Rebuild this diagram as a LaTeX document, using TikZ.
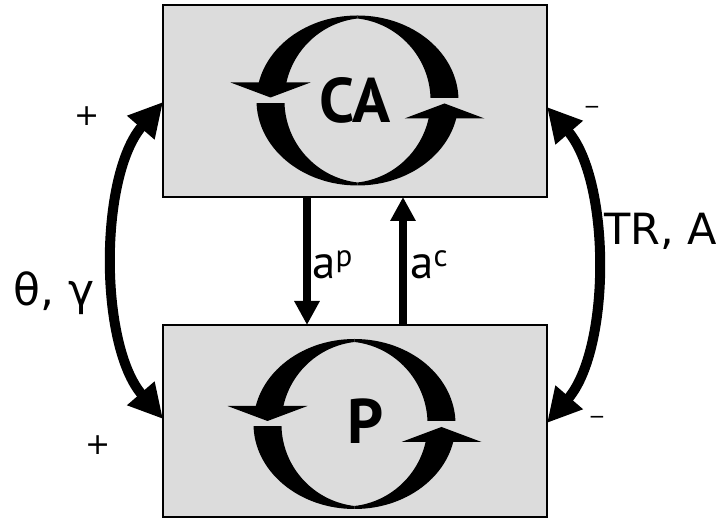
\documentclass[tikz,border=0pt]{standalone}
\usepackage{fontspec}
\setmainfont{DejaVu Sans}
\newfontfamily\ptsans{PT Sans}
\usetikzlibrary{arrows.meta}
\definecolor{boxgray}{RGB}{220,220,220}
\def\myring{(0,0) ellipse[x radius=101,y radius=85]
  (0,82) arc[start angle=96.6,end angle=263.4,radius=82.55]
  arc[start angle=-83.4,end angle=83.4,radius=82.55] -- cycle}
\tikzset{
  cyclearrows/.pic={
    \begin{scope}
      \clip (-130,18) rectangle (0,100);
      \fill[black,even odd rule] \myring;
    \end{scope}
    \begin{scope}
      \clip (-130,-100) rectangle (0,-3);
      \fill[black,even odd rule] \myring;
    \end{scope}
    \begin{scope}
      \clip (0,3) rectangle (130,100);
      \fill[black,even odd rule] \myring;
    \end{scope}
    \begin{scope}
      \clip (0,-100) rectangle (130,-18);
      \fill[black,even odd rule] \myring;
    \end{scope}
    \fill[black] (-127,18) -- (-47,18) -- (-87,3) -- cycle;
    \fill[black] (47,-18) -- (127,-18) -- (87,-3) -- cycle;
  }
}
\begin{document}
\begin{tikzpicture}[x=1pt,y=1pt,
  box/.style={draw=black,line width=1.5pt,fill=boxgray,minimum width=384pt,
    minimum height=192pt,inner sep=0pt,outer sep=0pt},
  bigarrow/.style={line width=10pt,
    {Triangle[length=34pt,width=34pt]}-{Triangle[length=34pt,width=34pt]}},
  vertarrow/.style={line width=8pt,-{Triangle[length=24pt,width=24pt]}},
  bigtxt/.style={inner sep=0pt,font=\ptsans\bfseries\fontsize{63}{63}\selectfont},
  lbl/.style={inner sep=0pt,anchor=base west},
  plussign/.style={inner sep=0pt,font=\fontsize{30}{30}\selectfont},
  minussign/.style={inner sep=0pt,font=\fontsize{20}{20}\selectfont}
]
\useasboundingbox (0,0) rectangle (722,518);
\node[box] (CA) at (355,417) {};
\node[box] (P) at (355,97) {};
\pic at (357.5,417.5) {cyclearrows};
\pic at (354.5,94) {cyclearrows};
\node[bigtxt] (catxt) at (355,417.5) {CA};
\node[bigtxt] (ptxt) at (366,96.5) {P};
\draw[bigarrow] ([yshift=-1pt]CA.west) .. controls +(-64,-74) and +(-64,74) .. ([yshift=2pt]P.west);
\draw[bigarrow] ([yshift=-6pt]CA.east) .. controls +(64,-74) and +(64,74) .. ([yshift=-2pt]P.east);
\draw[vertarrow] ([xshift=-48pt]CA.south) -- ([xshift=-48pt]P.north);
\draw[vertarrow] ([xshift=48pt]P.north) -- ([xshift=48pt]CA.south);
\node[lbl,font=\ptsans\fontsize{47}{47}\selectfont] (aplbl) at (312,239)
  {a\raisebox{12pt}{\fontsize{31}{31}\selectfont p}};
\node[lbl,font=\ptsans\fontsize{47}{47}\selectfont] (aclbl) at (410,239)
  {a\raisebox{12pt}{\fontsize{31}{31}\selectfont c}};
\node[lbl,font=\fontsize{44}{44}\selectfont] (thlbl) at (13,212) {θ, γ};
\node[lbl,font=\fontsize{43}{43}\selectfont] (trlbl) at (604,273) {TR, A};
\node[plussign] (p1) at (87,402) {+};
\node[plussign] (p2) at (98,73) {+};
\node[minussign] (m1) at (592,408) {−};
\node[minussign] (m2) at (597,98) {−};
\end{tikzpicture}
\end{document}
